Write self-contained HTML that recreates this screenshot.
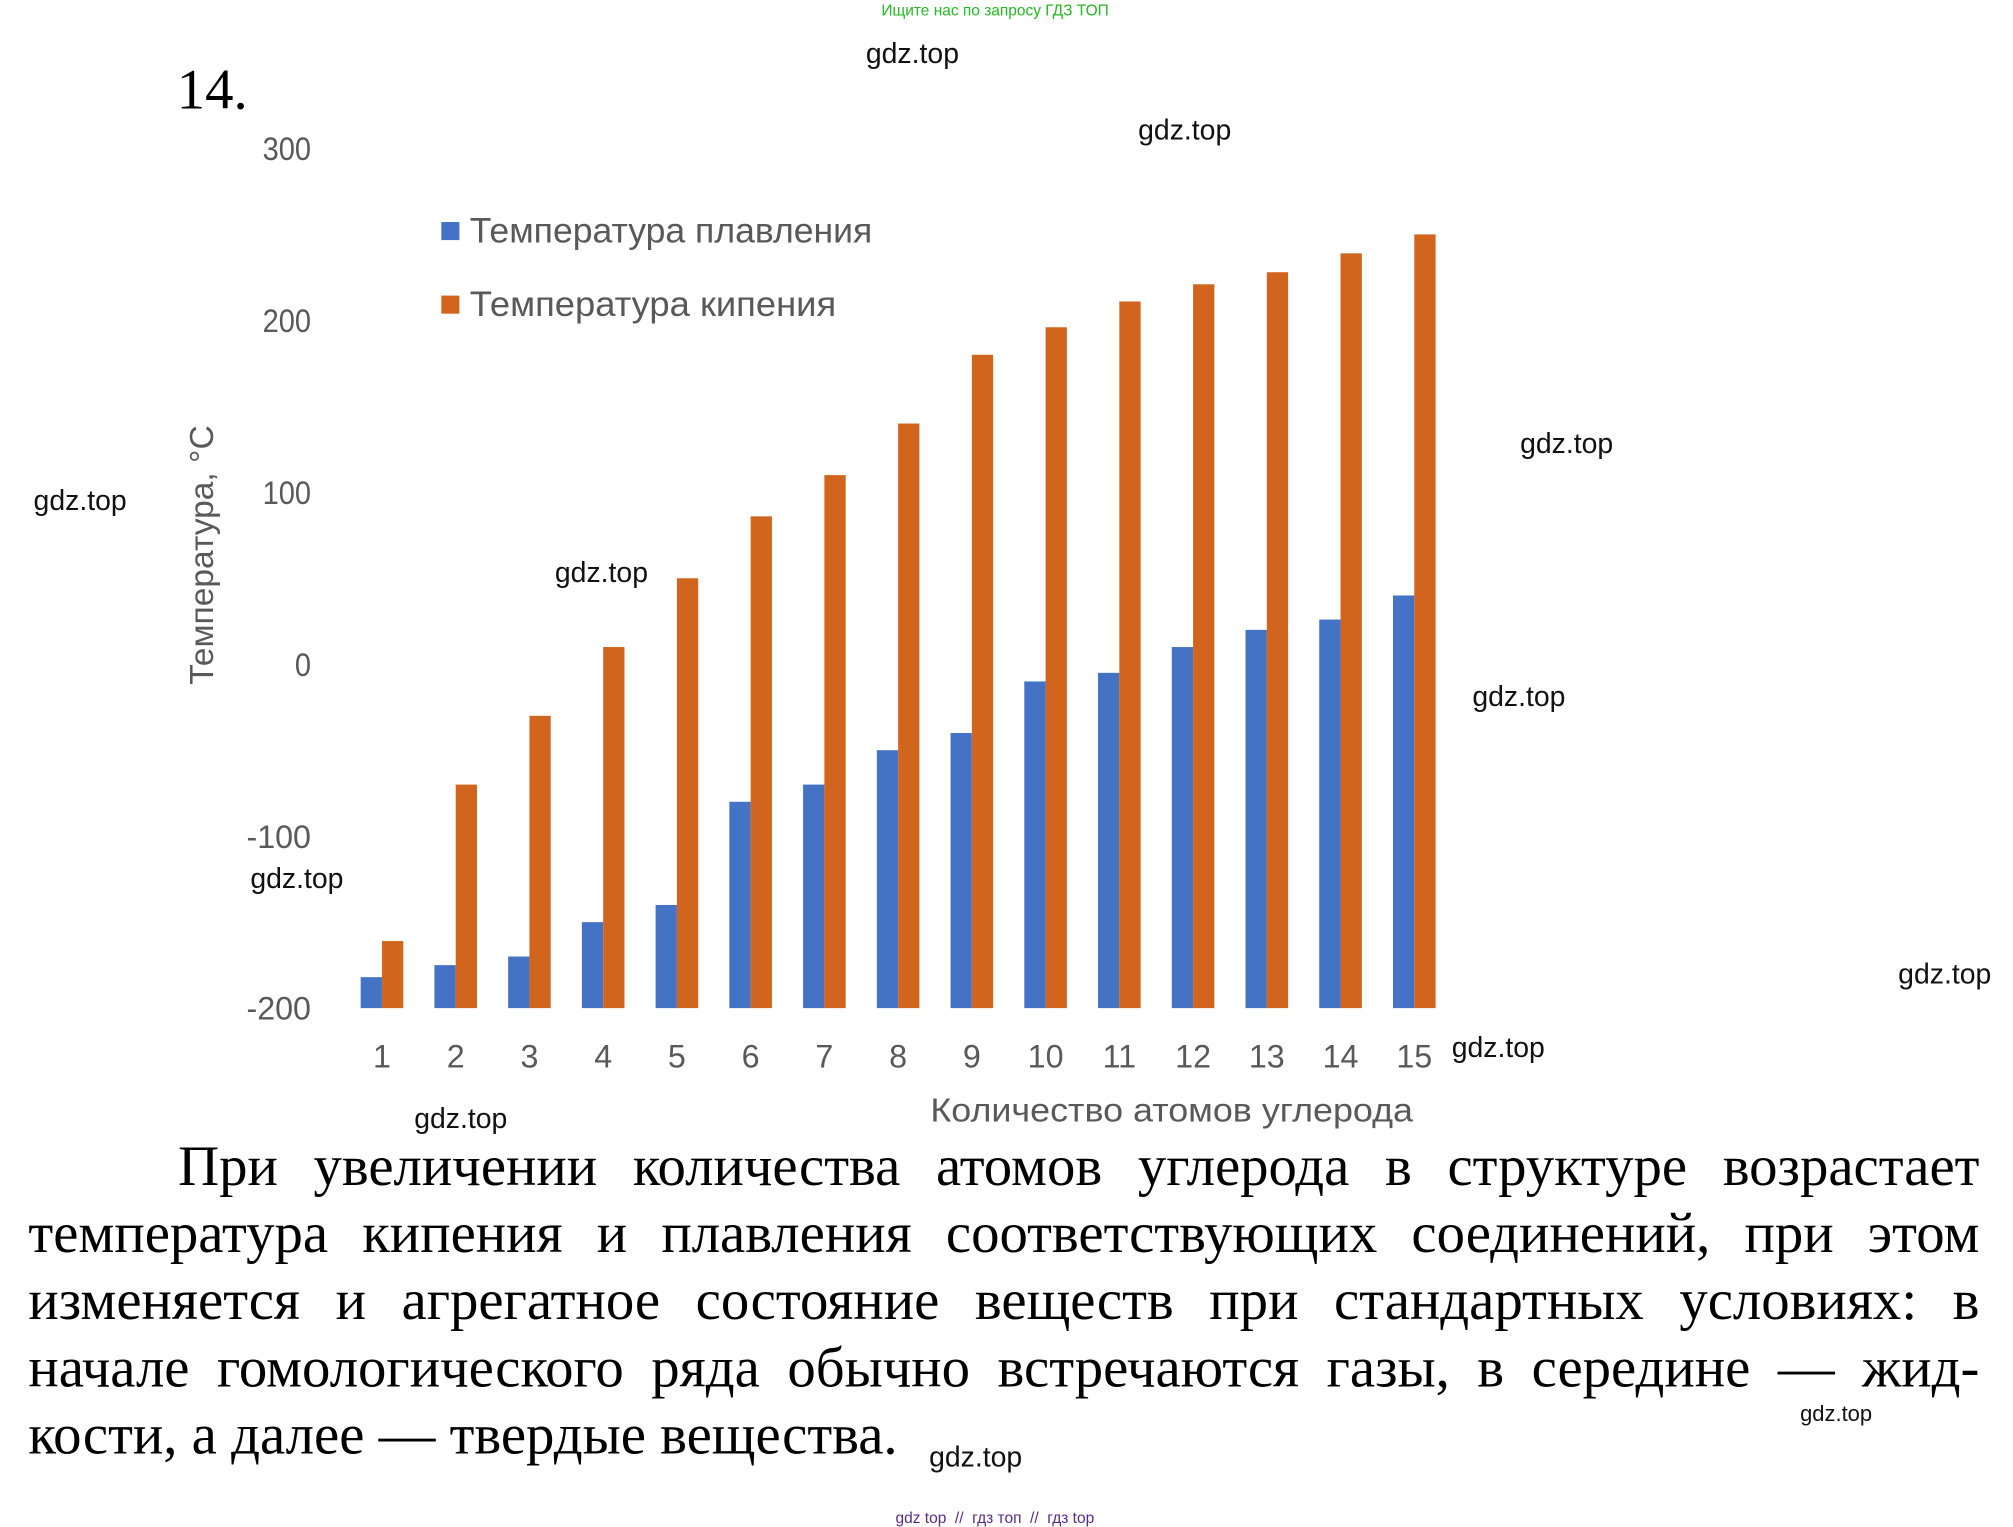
<!DOCTYPE html>
<html><head><meta charset="utf-8"><style>
html,body{margin:0;padding:0;background:#fff;width:2013px;height:1527px;overflow:hidden}
#stage{position:absolute;left:0;top:0;width:1560px;height:1183px;transform-origin:0 0;transform:scale(1.2904,1.2908)}
.wm{position:absolute;font-family:"Liberation Sans",sans-serif;font-size:22px;color:#111;line-height:1;white-space:nowrap}
.para{position:absolute;left:22px;width:1512px;font-family:"Liberation Serif","Noto Serif CJK SC",serif;font-size:44px;color:#000;line-height:52px}
.ln{text-align:justify;text-align-last:justify;white-space:nowrap;height:52px}
</style></head><body>
<div id="stage">
<div class="wm" style="left:683px;top:2px;font-size:12px;color:#22bb22">Ищите нас по запросу ГДЗ ТОП</div>
<div style="position:absolute;left:137px;top:48px;font-family:'Liberation Serif',serif;font-size:44px;line-height:1">14.</div>

<svg id="chart" width="1560" height="900" style="position:absolute;left:0;top:0" font-family="'Liberation Sans', sans-serif"></svg>

<div class="para" style="top:878px">
<div class="ln" style="padding-left:116px">При увеличении количества атомов углерода в структуре возрастает</div>
<div class="ln">температура кипения и плавления соответствующих соединений, при этом</div>
<div class="ln">изменяется и агрегатное состояние веществ при стандартных условиях: в</div>
<div class="ln">начале гомологического ряда обычно встречаются газы, в середине — жид-</div>
<div style="white-space:nowrap">кости, а далее — твердые вещества.</div>
</div>

<div class="wm" style="left:671px;top:31px">gdz.top</div>
<div class="wm" style="left:882px;top:90px">gdz.top</div>
<div class="wm" style="left:1178px;top:333px">gdz.top</div>
<div class="wm" style="left:26px;top:377px">gdz.top</div>
<div class="wm" style="left:430px;top:433px">gdz.top</div>
<div class="wm" style="left:1141px;top:529px">gdz.top</div>
<div class="wm" style="left:194px;top:670px">gdz.top</div>
<div class="wm" style="left:1471px;top:744px">gdz.top</div>
<div class="wm" style="left:1125px;top:801px">gdz.top</div>
<div class="wm" style="left:321px;top:856px">gdz.top</div>
<div class="wm" style="left:1395px;top:1087px;font-size:17px">gdz.top</div>
<div class="wm" style="left:720px;top:1118px">gdz.top</div>
<div class="wm" style="left:694px;top:1170px;font-size:12px;color:#5a2a8a">gdz top &nbsp;// &nbsp;гдз топ &nbsp;// &nbsp;гдз top</div>
</div>
<script>
const categories=[1,2,3,4,5,6,7,8,9,10,11,12,13,14,15];
const meltValues=[-182,-175,-170,-150,-140,-80,-70,-50,-40,-10,-5,10,20,26,40];
const boilValues=[-161,-70,-30,10,50,86,110,140,180,196,211,221,228,239,250];
const yTicks=[300,200,100,0,-100,-200];
const NS='http://www.w3.org/2000/svg';
const svg=document.getElementById('chart');
const yMin=-200,yMax=300,yTop=115,yBot=781;
function y(v){return yBot-(v-yMin)/(yMax-yMin)*(yBot-yTop);}
const x0=296,step=(1096-296)/14;
function xc(i){return x0+i*step;}
function el(tag,attrs,text){const e=document.createElementNS(NS,tag);for(const k in attrs)e.setAttribute(k,attrs[k]);if(text!==undefined)e.textContent=text;svg.appendChild(e);return e;}
yTicks.forEach(t=>{
 const e=el('text',{x:241,y:y(t)+9,'text-anchor':'end','font-size':25,fill:'#595959',textLength:String(t).length*12.5,lengthAdjust:'spacingAndGlyphs'},String(t));
 
 
});
categories.forEach((c,i)=>{
 const bw=16.5;
 const b=el('rect',{x:xc(i)-bw,y:y(meltValues[i]),width:bw,height:yBot-y(meltValues[i]),fill:'#4472C4'});
 
 
 const o=el('rect',{x:xc(i),y:y(boilValues[i]),width:bw,height:yBot-y(boilValues[i]),fill:'#D2651E'});
 
 
 const l=el('text',{x:xc(i),y:827,'text-anchor':'middle','font-size':25,fill:'#595959'},String(c));
 
 
});
const xt=el('text',{x:908,y:869,'text-anchor':'middle','font-size':26,fill:'#595959',textLength:374,lengthAdjust:'spacingAndGlyphs'},'Количество атомов углерода');


const yt=el('text',{x:0,y:0,'text-anchor':'middle','font-size':26,fill:'#595959',transform:'translate(165,430) rotate(-90)'},'Температура, °C');


const s1=el('rect',{x:342,y:172,width:14,height:14,fill:'#4472C4'});


const t1=el('text',{x:364,y:188,'font-size':27,fill:'#595959',textLength:312,lengthAdjust:'spacingAndGlyphs'},'Температура плавления');


const s2=el('rect',{x:342,y:229,width:14,height:14,fill:'#D2651E'});


const t2=el('text',{x:364,y:245,'font-size':27,fill:'#595959',textLength:284,lengthAdjust:'spacingAndGlyphs'},'Температура кипения');


</script>
</body></html>
